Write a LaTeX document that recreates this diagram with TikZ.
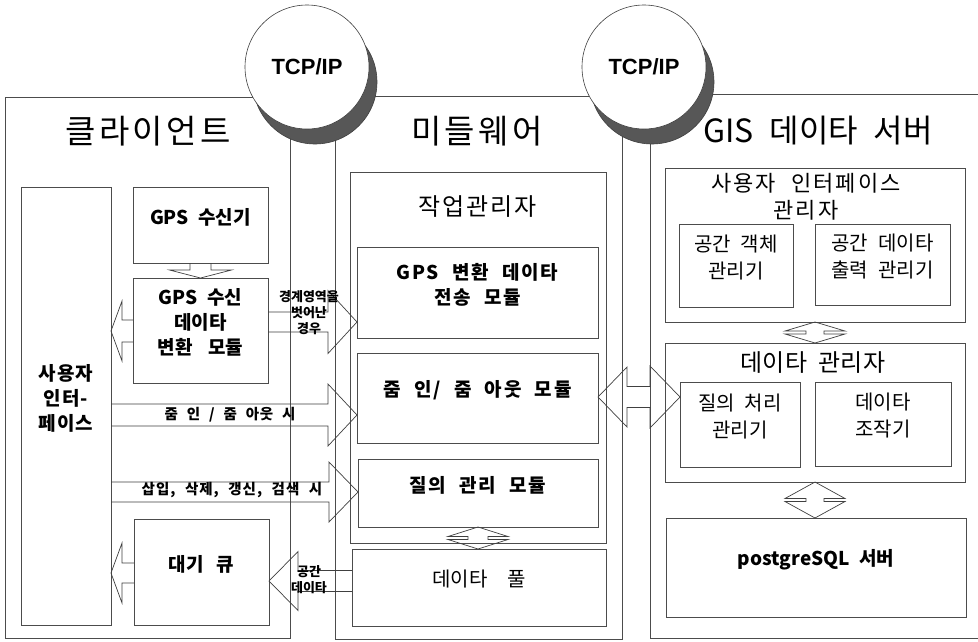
\documentclass[tikz,border=0pt]{standalone}
\usepackage{fontspec}
\setmainfont{Noto Sans CJK KR}[WordSpace=2.2]
\newfontfamily\arialfont{Liberation Sans}
\usetikzlibrary{fit,calc}
\newcommand\fs[2]{\fontsize{#1}{#2}\selectfont}
\newcommand\ls[1]{\addfontfeature{LetterSpace=#1}}
\tikzset{
  frame/.style={draw=black!70, line width=0.8pt, inner sep=0pt, outer sep=0pt},
  box/.style={draw=black!70, line width=0.7pt, inner sep=0pt, outer sep=0pt, align=center},
  barrow/.style={draw=black!75, line width=0.7pt, line join=miter},
  lbl/.style={inner sep=0pt, align=center},
  tcp/.style={circle, minimum size=124pt, inner sep=0pt, draw=black!75, line width=0.6pt},
  bt/.style={font=\fs{19}{25}\bfseries},
  bw/.style={font=\fs{19}{25}\bfseries\ls{9}},
  rt/.style={font=\fs{20}{27}},
}
% #1 tail, #2 tip, #3 body half, #4 head half, #5 signed head length
\newcommand\harr[5]{\draw[barrow] let \p1=(#1), \p2=(#2) in
  (\x1,{\y2+#3}) -- ({\x2-(#5)},{\y2+#3}) -- ({\x2-(#5)},{\y2+#4}) -- (\x2,\y2)
  -- ({\x2-(#5)},{\y2-#4}) -- ({\x2-(#5)},{\y2-#3}) -- (\x1,{\y2-#3});}
% vertical double arrow: #1 top, #2 bottom, #3 head half, #4 body half, #5 body half-height
\newcommand\vdarr[5]{\draw[barrow] let \p1=(#1), \p2=(#2), \n1={(\y1+\y2)/2} in
  (\x1,\y1) -- ({\x1+#3},{\n1+#5}) -- ({\x1+#4},{\n1+#5}) -- ({\x1+#4},{\n1-#5})
  -- ({\x1+#3},{\n1-#5}) -- (\x1,\y2) -- ({\x1-#3},{\n1-#5}) -- ({\x1-#4},{\n1-#5})
  -- ({\x1-#4},{\n1+#5}) -- ({\x1-#3},{\n1+#5}) -- cycle;}
\begin{document}
\begin{tikzpicture}[x=1pt,y=-1pt]
\useasboundingbox (0,0) rectangle (978,641);
\fill[white] (0,0) rectangle (978,641);

% outer frames
\node[frame, fit={(5,97)(290,638)}] (client) {};
\node[frame, fit={(335,96)(622,639)}] (mid) {};
\node[frame, fit={(650,94)(995,638)}] (gis) {};

% TCP/IP circles
\node[tcp, fill=black!66] (tcp1s) at (315,82) {};
\node[tcp, fill=white, font=\arialfont\bfseries\fs{22}{24}] (tcp1) at (307,67) {TCP/IP};
\node[tcp, fill=black!66] (tcp2s) at (652,82) {};
\node[tcp, fill=white, font=\arialfont\bfseries\fs{22}{24}] (tcp2) at (644,67) {TCP/IP};

% titles
\node[lbl, font=\fs{33}{36}\ls{10}] (tclient) at (148,131) {클라이언트};
\node[lbl, font=\fs{33}{36}\ls{10}] (tmid) at (477,131) {미들웨어};
\node[lbl, font=\fs{32}{36}] (tgis) at (818,131) {GIS 데이타 서버};

% client boxes
\node[box, font=\fs{19}{25}\bfseries\ls{6}, fit={(21,187)(111,625)}] (ui) {사용자\\인터-\\페이스};
\node[box, bt, fit={(133,187)(268,263)}] (gps) {GPS 수신기};
\node[box, bt, fit={(133,278)(268,383)}] (gpsconv) {GPS 수신\\데이타\\변환\hspace{0.3em} 모듈};
\node[box, bt, fit={(134,519)(269,625)}] (queue) {대기\hspace{0.2em} 큐};

% middleware boxes
\node[box, fit={(350,172)(606,543)}] (job) {};
\node[lbl, font=\fs{24}{26}\ls{8}] (tjob) at (478,207) {작업관리자};
\node[box, bw, fit={(357,247)(598,338)}] (gpsx) {GPS 변환 데이타\\전송 모듈};
\node[box, bw, fit={(357,353)(598,443)}] (zoom) {줌 인/ 줌 아웃 모듈};
\node[box, bw, fit={(358,459)(598,527)}] (query) {질의 관리 모듈};
\node[box, font=\fs{20}{24}, fit={(352,549)(606,626)}] (pool) {데이타\hspace{0.5em} 풀};

% GIS boxes
\node[box, fit={(665,168)(965,322)}] (uim) {};
\node[lbl, font=\fs{22}{27}\ls{9}] (tuim) at (806,197) {사용자 인터페이스\\관리자};
\node[box, rt, fit={(679,224)(793,307)}] (sobj) {공간 객체\\관리기};
\node[box, rt, fit={(815,224)(950,305)}] (sout) {공간 데이타\\출력 관리기};
\node[box, fit={(665,343)(965,482)}] (dm) {};
\node[lbl, font=\fs{24}{26}] (tdm) at (813,363) {데이타 관리자};
\node[box, rt, fit={(680,382)(800,467)}] (qp) {질의 처리\\관리기};
\node[box, rt, fit={(815,382)(951,466)}] (dmanip) {데이타\\조작기};
\node[box, bt, fit={(666,518)(966,617)}] (pg) {postgreSQL 서버};

% block arrows
\draw[barrow] let \p1=(gps.south), \p2=(gpsconv.north) in
  ({\x1-10.5pt},\y1) -- ({\x1-10.5pt},{\y2+8pt}) -- ({\x1-31pt},{\y2+8pt}) -- (\x1,\y2)
  -- ({\x1+31pt},{\y2+8pt}) -- ({\x1+10.5pt},{\y2+8pt}) -- ({\x1+10.5pt},\y1);
\harr{gpsconv.west}{ui.east |- 0,331}{11pt}{30pt}{-11pt}
\harr{gpsconv.east}{gpsx.west |- 0,322}{10pt}{31.5pt}{29pt}
\harr{ui.east}{zoom.west |- 0,415}{11pt}{31pt}{29pt}
\harr{ui.east}{query.west |- 0,492}{10pt}{30pt}{29pt}
\harr{queue.west}{ui.east |- 0,573}{10pt}{30pt}{-11pt}
\harr{pool.west}{queue.east |- 0,581}{10.5pt}{29.5pt}{-29pt}
\draw[barrow] let \p1=(zoom.east |- 0,397), \p2=(qp.west |- 0,397) in
  (\x1,\y1) -- ({\x1+29pt},{\y1+30pt}) -- ({\x1+29pt},{\y1+10.5pt}) -- ({\x2-30pt},{\y1+10.5pt})
  -- ({\x2-30pt},{\y1+31pt}) -- (\x2,\y1) -- ({\x2-30pt},{\y1-31pt}) -- ({\x2-30pt},{\y1-10.5pt})
  -- ({\x1+29pt},{\y1-10.5pt}) -- ({\x1+29pt},{\y1-30pt}) -- cycle;

% double arrows (vertical)
\vdarr{query.south}{pool.north}{30pt}{10pt}{1.5pt}
\vdarr{uim.south}{dm.north}{30pt}{9pt}{1.5pt}
\vdarr{dm.south}{pg.north}{30pt}{9pt}{1.5pt}

% arrow labels
\node[lbl, font=\fs{13}{16}\bfseries] (l1) at (309,313) {경계영역을\\벗어난\\경우};
\node[lbl, font=\fs{14.5}{16}\bfseries\ls{5}] (l2) at (230,415) {줌 인 / 줌 아웃 시};
\node[lbl, font=\fs{14.5}{16}\bfseries\ls{7}] (l3) at (232,490) {삽입, 삭제, 갱신, 검색 시};
\node[lbl, font=\fs{13}{16}\bfseries] (l4) at (309,580) {공간\\데이타};
\end{tikzpicture}
\end{document}
